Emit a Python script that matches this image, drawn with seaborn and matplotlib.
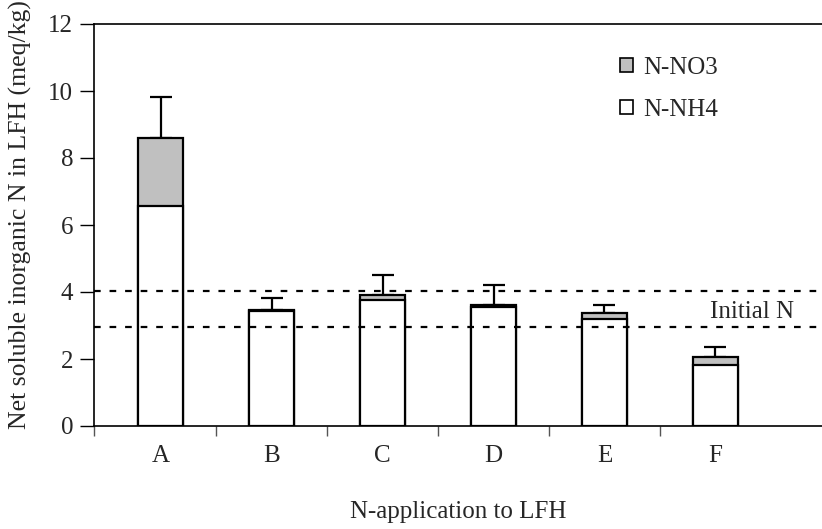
import numpy as np
import pandas as pd
import seaborn as sns
import matplotlib.pyplot as plt
from matplotlib.patches import Patch

# values
treatments = ["A", "B", "C", "D", "E", "F"]
nh4 = [6.58, 3.42, 3.76, 3.55, 3.18, 1.82]
total = [8.60, 3.46, 3.90, 3.61, 3.36, 2.06]
err_up = [1.23, 0.37, 0.60, 0.59, 0.25, 0.30]
initial_n = [2.96, 4.03]

df = pd.DataFrame({"treatment": treatments, "nh4": nh4, "total": total})

sns.set_theme(style="white")
plt.rcParams["font.family"] = ["Liberation Serif", "DejaVu Serif"]
fs = 18

fig = plt.figure(figsize=(8.22, 5.29), dpi=100)
ax = fig.add_axes([94 / 822, 1 - 426 / 529, 1 - 94 / 822, (426 - 24) / 529])

bw = 0.4
sns.barplot(data=df, x="treatment", y="total", color="#c0c0c0", width=bw,
            edgecolor="black", linewidth=1.6, saturation=1, ax=ax, zorder=2)
sns.barplot(data=df, x="treatment", y="nh4", color="white", width=bw,
            edgecolor="black", linewidth=1.6, saturation=1, ax=ax, zorder=3)

x = np.arange(len(treatments))
ax.errorbar(x, total, yerr=[np.zeros(len(x)), err_up], fmt="none",
            ecolor="black", elinewidth=1.6, capsize=8, capthick=1.6, zorder=1)

for yv in initial_n:
    ax.axhline(yv, color="black", linestyle=(0, (3, 4)), linewidth=1.6, zorder=4)
ax.text(4.95, 3.40, "Initial N", fontsize=fs, ha="left", va="center")

ax.set_xlim(-0.6, 5.96)
ax.set_ylim(0, 12)
ax.set_yticks(range(0, 13, 2))
ax.set_xticks(x)
ax.set_xticklabels(treatments)
ax.tick_params(axis="x", which="major", length=0, pad=14, labelsize=fs)
ax.set_xticks(np.r_[-0.6, x[:-1] + 0.5], minor=True)
ax.tick_params(axis="x", which="minor", length=7, width=1, color="#555555",
               direction="out", bottom=True)
ax.tick_params(axis="y", length=10, width=1, color="black", direction="out",
               left=True, labelsize=fs, pad=5)

for side in ["left", "bottom", "top"]:
    ax.spines[side].set_color("black")
    ax.spines[side].set_linewidth(1.2)
ax.spines["right"].set_visible(False)

ax.set_xlabel("N-application to LFH", fontsize=fs, labelpad=24)
ax.set_ylabel("")
fig.text(20 / 822, 1 - 429 / 529, "Net soluble inorganic N in LFH (meq/kg)",
         rotation=90, ha="center", va="bottom", fontsize=fs + 0.5)

handles = [Patch(facecolor="#c0c0c0", edgecolor="black", linewidth=1.2, label="N-NO3"),
           Patch(facecolor="white", edgecolor="black", linewidth=1.2, label="N-NH4")]
ax.legend(handles=handles, loc="upper left", bbox_to_anchor=(0.692, 0.975),
          frameon=False, fontsize=fs, handlelength=0.5, handleheight=0.5,
          handletextpad=0.4, labelspacing=0.8)

fig.savefig("out.png", dpi=100)
